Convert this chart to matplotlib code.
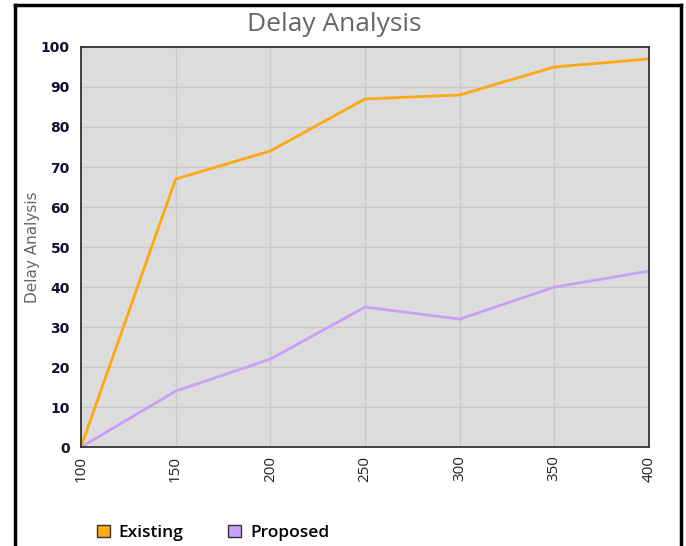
import matplotlib.pyplot as plt
from matplotlib.lines import Line2D
from matplotlib.patches import Patch

x = [100, 150, 200, 250, 300, 350, 400]
existing = [0, 67, 74, 87, 88, 95, 97]
proposed = [0, 14, 22, 35, 32, 40, 44]

fig = plt.figure(figsize=(6.86, 5.46), dpi=100)
ax = fig.add_axes([0.118, 0.181, 0.828, 0.733])
ax.set_facecolor('#dcdcdc')

ax.plot(x, existing, color='#ffa812', lw=2, label='Existing')
ax.plot(x, proposed, color='#c9a0f7', lw=2, label='Proposed')

ax.set_xlim(100, 400)
ax.set_ylim(0, 100)
ax.set_xticks(x)
ax.set_yticks(range(0, 101, 10))
ax.grid(True, color='#c8c8c8', lw=1)
ax.set_axisbelow(True)
ax.tick_params(axis='x', rotation=90, length=0, labelsize=11, pad=6)
ax.tick_params(axis='y', length=0, labelsize=10, pad=8)
for lab in ax.get_xticklabels():
    lab.set_color('#222222')
    lab.set_family('Open Sans')
for lab in ax.get_yticklabels():
    lab.set_color('#111133')
    lab.set_fontweight('bold')
for sp in ax.spines.values():
    sp.set_color('#333333')
    sp.set_linewidth(1.3)

ax.set_ylabel('Delay Analysis', fontsize=11, color='#666666')
ax.yaxis.set_label_coords(-0.072, 0.5)
fig.text(0.487, 0.956, 'Delay Analysis', ha='center', va='center', fontsize=19,
         color='#666666', family='Open Sans')

handles = [Patch(facecolor='#ffa812', edgecolor='#333333', label='Existing'),
           Patch(facecolor='#c9a0f7', edgecolor='#333333', label='Proposed')]
fig.legend(handles=handles, loc='center left', bbox_to_anchor=(0.118, 0.024), ncol=2,
           frameon=False, prop={'family': 'Open Sans', 'size': 12.5, 'weight': 'semibold'},
           handlelength=0.75, handleheight=0.75, columnspacing=2.6, handletextpad=0.5)

# outer frame (no bottom edge)
fig.add_artist(Line2D([0.022, 0.022], [0, 0.991], color='black', lw=2.5, transform=fig.transFigure))
fig.add_artist(Line2D([0.992, 0.992], [0, 0.991], color='black', lw=2.5, transform=fig.transFigure))
fig.add_artist(Line2D([0.022, 0.992], [0.991, 0.991], color='black', lw=2.5, transform=fig.transFigure))

fig.savefig('out.png', dpi=100)
